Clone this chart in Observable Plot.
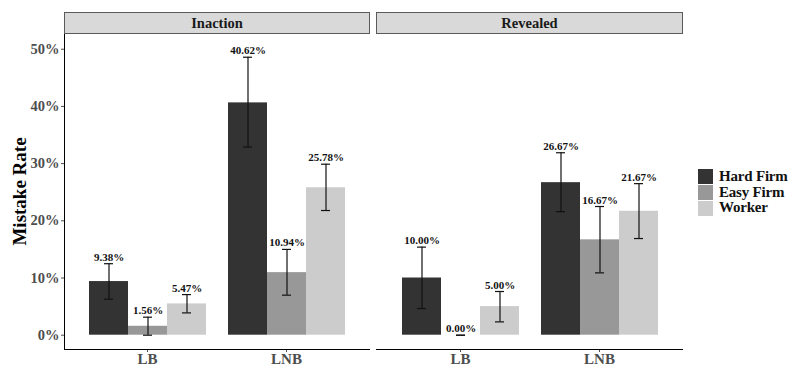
<!DOCTYPE html>
<html><head><meta charset="utf-8">
<script src="https://cdn.jsdelivr.net/npm/d3@7"></script>
<script src="https://cdn.jsdelivr.net/npm/@observablehq/plot@0.6"></script>
<style>
body{margin:0;background:#fff;font-family:"Liberation Serif",serif;}
#wrap{position:relative;width:791px;height:366px;overflow:hidden;background:#fff}
.strip{position:absolute;top:12px;height:22px;box-sizing:border-box;background:#d9d9d9;border:1px solid #5a5a5a;
  font-weight:bold;font-size:14.5px;color:#1a1a1a;text-align:center;line-height:20px}
.pl{position:absolute;top:33px}
.baseline{position:absolute;top:348.5px;height:0;border-top:1px solid #000}
#legend{position:absolute;left:698px;top:169px;font-weight:bold;font-size:15px;letter-spacing:-0.2px;color:#111;white-space:nowrap}
#legend .row{display:flex;align-items:center;height:15.7px;line-height:15.7px}
#legend .key{width:15px;height:15px;margin-right:6px;flex:none}
svg [aria-label="y-axis label"] text, svg [aria-label="y-axis label"]{font-size:19px;fill:#000;font-weight:bold}
</style></head>
<body><div id="wrap"></div>
<script>
const panels = ["Inaction", "Revealed"];
const categories = ["LB", "LNB"];
const series = ["Hard Firm", "Easy Firm", "Worker"];
// order: LB (Hard, Easy, Worker), LNB (Hard, Easy, Worker)
const inactionMean = [9.38, 1.56, 5.47, 40.62, 10.94, 25.78];
const inactionLow  = [6.3, 0, 3.9, 32.9, 7.0, 21.8];
const inactionHigh = [12.5, 3.15, 7.1, 48.6, 15.0, 29.9];
const revealedMean = [10.00, 0.00, 5.00, 26.67, 16.67, 21.67];
const revealedLow  = [4.66, 0, 2.33, 21.6, 10.9, 16.9];
const revealedHigh = [15.4, 0, 7.64, 31.9, 22.5, 26.5];
const yTicks = [0, 10, 20, 30, 40, 50];
const colors = ["#333333", "#989898", "#cccccc"];
const yDomain = [-2.5, 52.75];
const yLabel = "Mistake Rate";

const wrap = document.getElementById("wrap");
const FONT = "Liberation Serif, serif";

function rowsOf(mean, lo, hi) {
  return mean.map((v, i) => ({cat: categories[Math.floor(i / 3)], s: series[i % 3], v, lo: lo[i], hi: hi[i]}));
}

// y axis (shared)
const yAxisPlot = Plot.plot({
  width: 65, height: 316, marginLeft: 64, marginRight: 0, marginTop: 0, marginBottom: 0,
  style: {fontFamily: FONT, overflow: "visible", background: "transparent"},
  y: {domain: yDomain},
  x: {domain: [0, 1], axis: null},
  marks: [
    Plot.axisY({ticks: yTicks, tickFormat: d => d + "%", tickSize: 3, tickPadding: 2, fontSize: 14.5,
      fontWeight: "bold", color: "#4d4d4d", label: yLabel, labelAnchor: "center", labelArrow: "none", labelOffset: 52}),
    Plot.ruleX([0], {stroke: "#000", strokeWidth: 1})
  ]
});
yAxisPlot.classList.add("pl");
yAxisPlot.style.left = "0px";
wrap.appendChild(yAxisPlot);

function panel(name, rows, left, width) {
  const strip = document.createElement("div");
  strip.className = "strip";
  strip.style.left = left + "px";
  strip.style.width = width + "px";
  strip.textContent = name;
  wrap.appendChild(strip);
  const p = Plot.plot({
    width, height: 333, marginLeft: 0, marginRight: 0, marginTop: 0, marginBottom: 17,
    style: {fontFamily: FONT, overflow: "visible", background: "transparent"},
    fx: {domain: categories, paddingInner: 0.149, paddingOuter: 0.171, label: null},
    x: {domain: series, padding: 0, axis: null},
    y: {domain: yDomain, axis: null},
    color: {domain: series, range: colors},
    marks: [
      Plot.barY(rows, {fx: "cat", x: "s", y: "v", fill: "s"}),
      Plot.ruleX(rows, {fx: "cat", x: "s", y1: "lo", y2: "hi", stroke: "#111", strokeWidth: 1.2}),
      Plot.tickY(rows, {fx: "cat", x: "s", y: "lo", stroke: "#111", strokeWidth: 1.2, insetLeft: 15, insetRight: 15}),
      Plot.tickY(rows, {fx: "cat", x: "s", y: "hi", stroke: "#111", strokeWidth: 1.2, insetLeft: 15, insetRight: 15}),
      Plot.text(rows, {fx: "cat", x: "s", y: "hi", text: d => d.v.toFixed(2) + "%", lineAnchor: "bottom", dy: -3,
        fontWeight: "bold", fontSize: 11, fill: "#111"}),
      Plot.axisFx({anchor: "bottom", tickSize: 3, tickPadding: 1, fontSize: 15, fontWeight: "bold", color: "#4d4d4d", label: null})
    ]
  });
  p.classList.add("pl");
  p.style.left = left + "px";
  wrap.appendChild(p);
  const base = document.createElement("div");
  base.className = "baseline";
  base.style.left = left + "px";
  base.style.width = width + "px";
  wrap.appendChild(base);
  return p;
}

const p1 = panel(panels[0], rowsOf(inactionMean, inactionLow, inactionHigh), 64, 306);
panel(panels[1], rowsOf(revealedMean, revealedLow, revealedHigh), 376, 307);

// legend
const color = p1.scale("color");
const lg = document.createElement("div");
lg.id = "legend";
series.forEach(s => {
  const r = document.createElement("div"); r.className = "row";
  const k = document.createElement("div"); k.className = "key"; k.style.background = color.apply(s);
  const t = document.createElement("span"); t.textContent = s;
  r.appendChild(k); r.appendChild(t); lg.appendChild(r);
});
wrap.appendChild(lg);
</script></body></html>
